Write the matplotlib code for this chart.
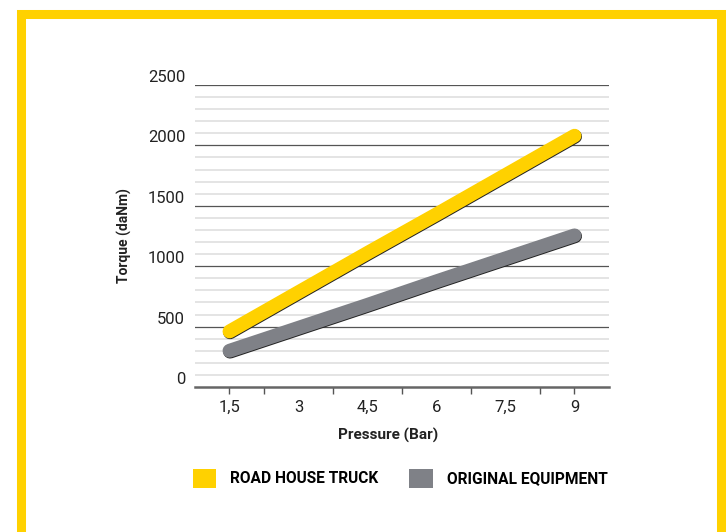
import matplotlib
matplotlib.use("Agg")
import matplotlib.pyplot as plt
import matplotlib.patheffects as pe
from matplotlib.patches import Rectangle, Patch

pressure = [1.5, 3, 4.5, 6, 7.5, 9]
road_house = [460, 785, 1110, 1430, 1755, 2080]
original = [300, 490, 680, 875, 1065, 1255]
x_labels = ["1,5", "3", "4,5", "6", "7,5", "9"]
series_names = ["ROAD HOUSE TRUCK", "ORIGINAL EQUIPMENT"]

YELLOW = "#FFD100"
GREY = "#7F8187"
W, H = 728, 532

fig = plt.figure(figsize=(W / 100, H / 100), dpi=100)
fig.patch.set_facecolor("white")

# yellow frame
fig.add_artist(Rectangle((20.5 / W, 1 - 545 / H), 700.5 / W, (545 - 13.5) / H,
                         transform=fig.transFigure, fill=False,
                         edgecolor=YELLOW, linewidth=6.5, clip_on=False))

ax = fig.add_axes([195 / W, 1 - 387 / H, 414 / W, 302 / H])
ax.set_xlim(0.75, 9.75)
ax.set_ylim(0, 2500)

# gridlines
for v in range(100, 2500, 100):
    if v % 500:
        ax.axhline(v, color="#DCDCDC", lw=1.1, zorder=1)
for v in range(500, 2501, 500):
    ax.axhline(v, color="#555555", lw=0.9, zorder=1)

for s in ["left", "right", "top"]:
    ax.spines[s].set_visible(False)
ax.spines["bottom"].set_color("#666666")
ax.spines["bottom"].set_linewidth(1.8)

shadow = [pe.Stroke(linewidth=10, foreground="#222222", offset=(0.4, -0.6)), pe.Normal()]
ax.plot(pressure, road_house, color=YELLOW, lw=10, solid_capstyle="round",
        path_effects=shadow, zorder=4)
ax.plot(pressure, original, color=GREY, lw=10, solid_capstyle="round",
        path_effects=shadow, zorder=3)

ax.xaxis.remove_overlapping_locs = False
ax.set_xticks(pressure)
ax.set_xticklabels(x_labels, fontsize=12, fontfamily="Roboto", color="#222222")
ax.set_xticks([1.5, 2.25, 3.75, 5.25, 6.75, 8.25, 9], minor=True)
ax.tick_params(axis="x", which="major", length=0, pad=9)
ax.tick_params(axis="x", which="minor", length=5, width=1, color="#555555", direction="out")

ax.set_yticks(range(0, 2501, 500))
ax.set_yticklabels([str(v) for v in range(0, 2501, 500)], fontsize=12,
                   fontfamily="Roboto", color="#222222")
ax.tick_params(axis="y", length=0, pad=7)
for lab in ax.get_yticklabels():
    lab.set_verticalalignment("bottom")

ax.set_xlabel("Pressure (Bar)", fontsize=11, fontweight="bold", family="Roboto",
              color="#222222")
ax.xaxis.set_label_coords(0.466, -0.135)
ax.set_ylabel("Torque (daNm)", fontsize=10, fontweight="bold", family="Roboto",
              color="#222222", labelpad=11)

handles = [Patch(facecolor=YELLOW, edgecolor="none"), Patch(facecolor=GREY, edgecolor="none")]
fig.legend(handles, series_names, loc="upper left", bbox_to_anchor=(185 / W, 1 - 461 / H),
           ncol=2, frameon=False, handlelength=1.5, handleheight=1.5, handletextpad=0.9,
           columnspacing=2.0, borderpad=0,
           prop={"weight": "bold", "size": 11.2, "family": "Roboto"})

fig.savefig("out.png", dpi=100, facecolor="white")
